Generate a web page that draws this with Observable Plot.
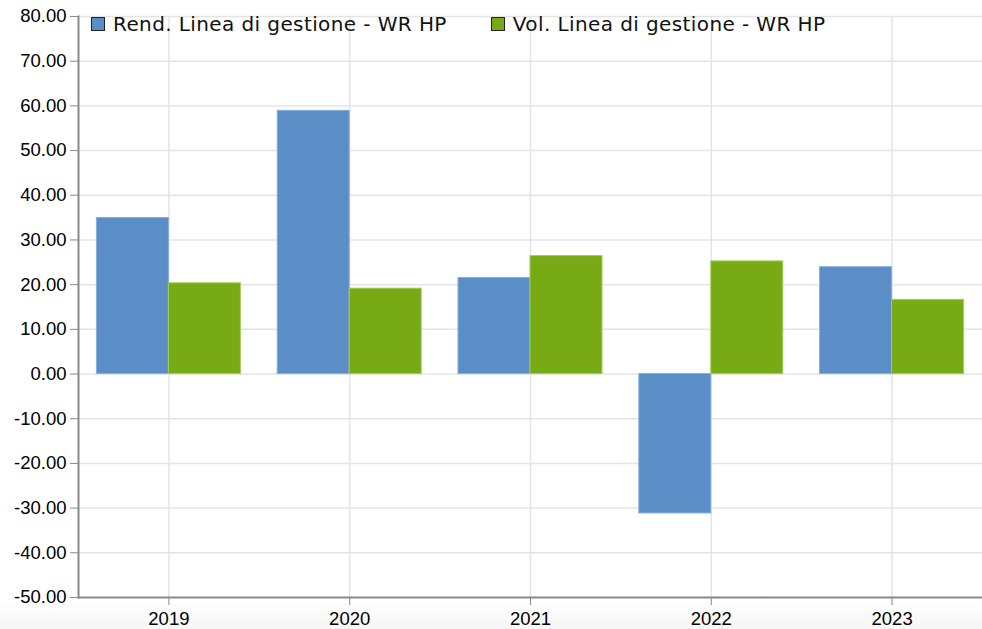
<!DOCTYPE html>
<html><head><meta charset="utf-8">
<script src="https://cdn.jsdelivr.net/npm/d3@7"></script>
<script src="https://cdn.jsdelivr.net/npm/@observablehq/plot@0.6"></script>
<style>
body{margin:0;background:#fff;}
#wrap{position:relative;width:982px;height:629px;background:linear-gradient(to bottom,#fff 0,#fff 598px,#f6f6f6 629px);}
.legend{position:absolute;top:12px;left:91px;font-family:"DejaVu Sans",Verdana,sans-serif;font-size:20px;letter-spacing:0.4px;color:#111;display:flex;align-items:center;}
.item{display:flex;align-items:center;margin-right:44px;}
.sw{width:12px;height:12px;border:1.5px solid #222;margin-right:8px;}
</style></head><body><div id="wrap"></div>
<script>
const years = ["2019", "2020", "2021", "2022", "2023"];
const rendimento = [34.9, 58.9, 21.5, -31.2, 23.9];
const volatilita = [20.3, 19.1, 26.4, 25.2, 16.6];
const seriesNames = ["Rend. Linea di gestione - WR HP", "Vol. Linea di gestione - WR HP"];
const seriesColors = ["#5b8ec7", "#77aa14"];
const seriesStrokes = ["#86aedb", "#a3cc5a"];
const yTicks = [-50, -40, -30, -20, -10, 0, 10, 20, 30, 40, 50, 60, 70, 80];

const rowsRend = years.map((y, i) => ({year: y, value: rendimento[i]}));
const rowsVol = years.map((y, i) => ({year: y, value: volatilita[i]}));

const chart = Plot.plot({
  width: 982, height: 629,
  marginLeft: 78, marginRight: 0, marginTop: 16, marginBottom: 32,
  style: {fontFamily: "'Liberation Sans', Arial, sans-serif", fontSize: "18.5px", color: "#000", background: "transparent"},
  x: {domain: years, padding: 0, round: false, label: null},
  y: {domain: [-50, 80], label: null},
  marks: [
    Plot.gridY(yTicks, {stroke: "#e4e4e4", strokeOpacity: 1, strokeWidth: 1.5}),
    Plot.gridX(years, {stroke: "#e4e4e4", strokeOpacity: 1, strokeWidth: 1.5}),
    Plot.barY(rowsRend, {x: "year", y: "value", fill: seriesColors[0], stroke: seriesStrokes[0], strokeWidth: 1, insetLeft: 18.4, insetRight: 90.4}),
    Plot.barY(rowsVol, {x: "year", y: "value", fill: seriesColors[1], stroke: seriesStrokes[1], strokeWidth: 1, insetLeft: 90.4, insetRight: 18.4}),
    Plot.ruleY([-50], {stroke: "#8a8a8a", strokeWidth: 2}),
    Plot.frame({anchor: "left", stroke: "#8a8a8a", strokeWidth: 2}),
    Plot.axisY(yTicks, {tickFormat: d => d.toFixed(2), tickSize: 8, tickPadding: 4, stroke: "#8a8a8a", fill: "#000", fontSize: 18.5}),
    Plot.axisX({tickSize: 8, tickPadding: 6, stroke: "#8a8a8a", fill: "#000", fontSize: 18.5})
  ]
});
const wrap = document.getElementById("wrap");
wrap.appendChild(chart);
const legend = document.createElement("div");
legend.className = "legend";
seriesNames.forEach((n, i) => {
  const it = document.createElement("div");
  it.className = "item";
  const sw = document.createElement("span");
  sw.className = "sw";
  sw.style.background = seriesColors[i];
  const t = document.createElement("span");
  t.textContent = n;
  it.appendChild(sw); it.appendChild(t);
  legend.appendChild(it);
});
wrap.appendChild(legend);
</script>
</body></html>
